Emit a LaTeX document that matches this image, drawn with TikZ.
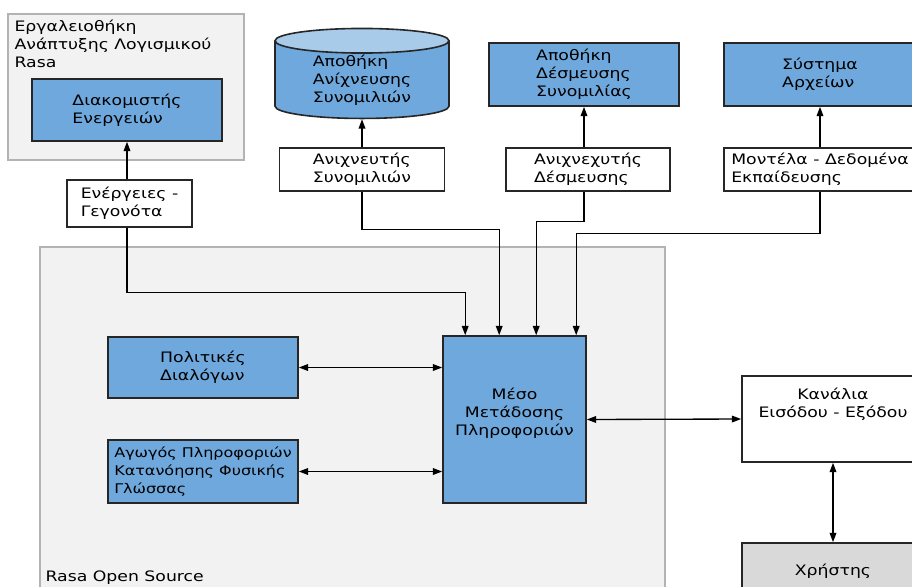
\documentclass[tikz,border=0pt]{standalone}
\usepackage{fontspec}
\setmainfont{DejaVu Sans}[FakeStretch=1.2]
\usetikzlibrary{positioning, calc, shapes.geometric, arrows.meta}
\definecolor{boxblue}{HTML}{6FA8DC}
\definecolor{cyltop}{HTML}{A9CBEA}
\definecolor{panelgray}{HTML}{F2F2F2}
\definecolor{panelline}{HTML}{B3B3B3}
\definecolor{usergray}{HTML}{D9D9D9}
\tikzstyle{panel} = [rectangle, fill=panelgray, draw=panelline, line width=1.1pt]
\tikzstyle{process} = [rectangle, fill=boxblue, draw=black!85, line width=1.2pt, align=left]
\tikzstyle{io} = [rectangle, fill=white, draw=black!85, line width=1.2pt, align=left]
\tikzstyle{arrow} = [->, >={Triangle[length=7pt, width=5pt]}, line width=1pt]
\tikzstyle{dblarrow} = [<->, >={Triangle[length=7pt, width=5pt]}, line width=1pt]
\tikzset{wh/.style 2 args={minimum width=#1*0.75pt, minimum height=#2*0.75pt}}

\begin{document}
\begin{tikzpicture}[x=0.75pt, y=-0.75pt, inner sep=0pt, font=\fontsize{10.8pt}{13.5pt}\selectfont]
    \clip (0,0) rectangle (912,586);
    %εργαλειοθήκη
    \node (tool) [panel, wh={236}{146}] at (126,87) {};
    \node (toolname) [anchor=north west, align=left] at ($(tool.north west)+(7,6)$) {Εργαλειοθήκη\\Ανάπτυξης Λογισμικού\\Rasa};
    \node (actsrv) [process, wh={190}{62}] at (127,110) {Διακομιστής\\Ενεργειών};
    \node (events) [io, wh={125}{47}] at (129.5,203.5) {Ενέργειες -\\Γεγονότα};

    %αποθήκες
    \node (cyl) [cylinder, shape border rotate=90, aspect=0.25, draw=black!85, line width=1.2pt, cylinder uses custom fill, cylinder body fill=boxblue, cylinder end fill=cyltop, wh={174}{90}, align=left] at (362,80) {Αποθήκη\\Ανίχνευσης\\Συνομιλιών};
    \node (tracker) [io, wh={165}{43}] at (362,169.5) {Ανιχνευτής\\Συνομιλιών};
    \node (lockstore) [process, wh={190}{63}] at (584,74.5) {Αποθήκη\\Δέσμευσης\\Συνομιλίας};
    \node (locker) [io, wh={164}{43}] at (588,169.5) {Ανιχνεχυτής\\Δέσμευσης};
    \node (filesys) [process, wh={192}{63}] at (820,74.5) {Σύστημα\\Αρχείων};
    \node (models) [io, wh={192}{43}] at (820,169.5) {Μοντέλα - Δεδομένα\\Εκπαίδευσης};

    %rasa open source
    \node (rasa) [panel, wh={625}{348}] at (352.5,421) {};
    \node (rasaname) [anchor=base west] at ($(rasa.south west)+(6,-14)$) {Rasa Open Source};
    \node (policy) [process, wh={190}{61}] at (203,367.5) {Πολιτικές\\Διαλόγων};
    \node (nlu) [process, wh={190}{63}, font=\fontsize{10pt}{13.2pt}\selectfont] at (203,471.5) {Αγωγός Πληροφοριών\\Κατανόησης Φυσικής\\Γλώσσας};
    \node (bus) [process, wh={143}{167}, align=center, text depth=12pt] at (514.5,419.5) {Μέσο\\Μετάδοσης\\Πληροφοριών};
    \node (channels) [io, wh={182}{86}, align=center, text depth=25pt] at (833,419) {Κανάλια\\Εισόδου - Εξόδου};
    \node (user) [process, fill=usergray, wh={182}{57}, align=center] at (833,571.5) {Χρήστης};

    %είσοδοι στο μέσο
    \coordinate (in1) at ($(bus.north west)+(23,0)$);
    \coordinate (in2) at ($(bus.north west)+(57,0)$);
    \coordinate (in3) at ($(bus.north west)+(94,0)$);
    \coordinate (in4) at ($(bus.north west)+(134,0)$);

    %συνδέσεις
    \draw [arrow] (events.north -| actsrv.south) -- (actsrv.south);
    \draw [arrow] (tracker.north) -- (cyl.south);
    \draw [arrow] (locker.north -| lockstore.south) -- (lockstore.south);
    \draw [arrow] (models.north) -- (filesys.south);
    \draw [arrow] (events.south -| actsrv.south) -- ++(0,65) -| (in1);
    \draw [arrow] (tracker.south) -- ++(0,38) -| (in2);
    \draw [arrow] (locker.south -| lockstore.south) -- ++(0,30) -| (in3);
    \draw [arrow] (models.south) -- ++(0,42) -| (in4);
    \draw [dblarrow] (policy.east) -- (policy.east -| bus.west);
    \draw [dblarrow] (nlu.east) -- (nlu.east -| bus.west);
    \draw [dblarrow] (bus.east) -- (channels.west);
    \draw [dblarrow] (channels.south) -- (user.north);
\end{tikzpicture}
\end{document}
